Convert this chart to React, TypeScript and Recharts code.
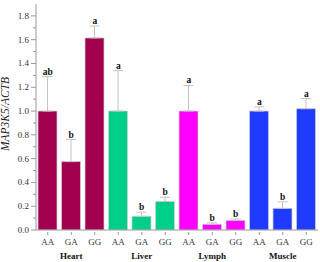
import React from "react";
import { ComposedChart, Bar, XAxis, YAxis, ErrorBar, Cell, Scatter } from "recharts";

const tissues = ["Heart", "Liver", "Lymph", "Muscle"];
const genotypes = ["AA", "GA", "GG"];
const colors = ["#A3004F", "#00CF8A", "#FF00FF", "#1F3BFF"];

const heartVals = [1.0, 0.575, 1.615];
const heartErr = [0.29, 0.185, 0.1];
const heartLetters = ["ab", "b", "a"];

const liverVals = [1.0, 0.115, 0.24];
const liverErr = [0.34, 0.035, 0.035];
const liverLetters = ["a", "b", "b"];

const lymphVals = [1.0, 0.048, 0.08];
const lymphErr = [0.215, 0.012, 0.012];
const lymphLetters = ["a", "b", "b"];

const muscleVals = [1.0, 0.182, 1.02];
const muscleErr = [0.035, 0.055, 0.085];
const muscleLetters = ["a", "b", "a"];

const yTicks = [0, 0.1, 0.2, 0.3, 0.4, 0.5, 0.6, 0.7, 0.8, 0.9, 1.0, 1.1, 1.2, 1.3, 1.4, 1.5, 1.6, 1.7, 1.8];

const groups = [
  { vals: heartVals, errs: heartErr, letters: heartLetters },
  { vals: liverVals, errs: liverErr, letters: liverLetters },
  { vals: lymphVals, errs: lymphErr, letters: lymphLetters },
  { vals: muscleVals, errs: muscleErr, letters: muscleLetters },
];

const data = tissues.flatMap((t, ti) =>
  genotypes.map((g, gi) => ({
    key: `${t}-${g}`,
    tissue: t,
    geno: g,
    value: groups[ti].vals[gi],
    err: [0, groups[ti].errs[gi]],
    top: groups[ti].vals[gi] + groups[ti].errs[gi],
    letter: groups[ti].letters[gi],
    color: colors[ti],
  }))
);

const SERIF = "'Liberation Serif', 'Times New Roman', serif";

const YTick = (props: any) => {
  const { x, y, payload } = props;
  const v = payload.value as number;
  const major = Math.round(v * 10) % 2 === 0;
  return (
    <g>
      <line x1={x - (major ? 5 : 3)} x2={x} y1={y} y2={y} stroke="#999" strokeWidth={1} />
      {major && (
        <text x={x - 7} y={y} dy={3} textAnchor="end" fontSize={9} fontFamily={SERIF} fill="#333">
          {v.toFixed(1)}
        </text>
      )}
    </g>
  );
};

const XTick = (props: any) => {
  const { x, y, payload, index } = props;
  const d = data[index];
  return (
    <g>
      <line x1={x} x2={x} y1={y} y2={y + 3} stroke="#999" strokeWidth={1} />
      <text x={x} y={y + 13} textAnchor="middle" fontSize={9} fontFamily={SERIF} fill="#333">
        {d ? d.geno : payload.value}
      </text>
      {d && d.geno === "GA" && (
        <text x={x} y={y + 27} textAnchor="middle" fontSize={9} fontWeight="bold" fontFamily={SERIF} fill="#111">
          {d.tissue}
        </text>
      )}
    </g>
  );
};

const LetterShape = (props: any) => {
  const { cx, cy, payload } = props;
  return (
    <text x={cx} y={cy - 2} textAnchor="middle" fontSize={9.5} fontWeight="bold" fontFamily={SERIF} fill="#111">
      {payload.letter}
    </text>
  );
};

export default function App() {
  return (
    <div style={{ position: "absolute", left: 0, top: 0, width: 320, height: 262, background: "#fff" }}>
      <ComposedChart width={320} height={262} data={data} margin={{ top: 4, right: 2, bottom: 0, left: 0 }}>
        <XAxis
          dataKey="key"
          interval={0}
          height={32}
          stroke="#999"
          tickLine={false}
          tickSize={0}
          tick={<XTick />}
        />
        <YAxis
          type="number"
          domain={[0, 1.9]}
          ticks={yTicks}
          interval={0}
          width={36}
          stroke="#999"
          tickLine={false}
          tickSize={0}
          tickMargin={0}
          tick={<YTick />}
          allowDataOverflow
        />
        <Bar dataKey="value" barSize={19} isAnimationActive={false} stroke="#d0d0d0" strokeWidth={0.7}>
          {data.map((d) => (
            <Cell key={d.key} fill={d.color} />
          ))}
          <ErrorBar dataKey="err" width={5} stroke="#c4c4c4" strokeWidth={1} direction="y" />
        </Bar>
        <Scatter dataKey="top" isAnimationActive={false} shape={<LetterShape />} />
        <text
          x={9}
          y={114}
          transform="rotate(-90 9 114)"
          textAnchor="middle"
          fontSize={11.5}
          fontStyle="italic"
          fontFamily={SERIF}
          fill="#222"
        >
          MAP3K5/ACTB
        </text>
      </ComposedChart>
    </div>
  );
}
